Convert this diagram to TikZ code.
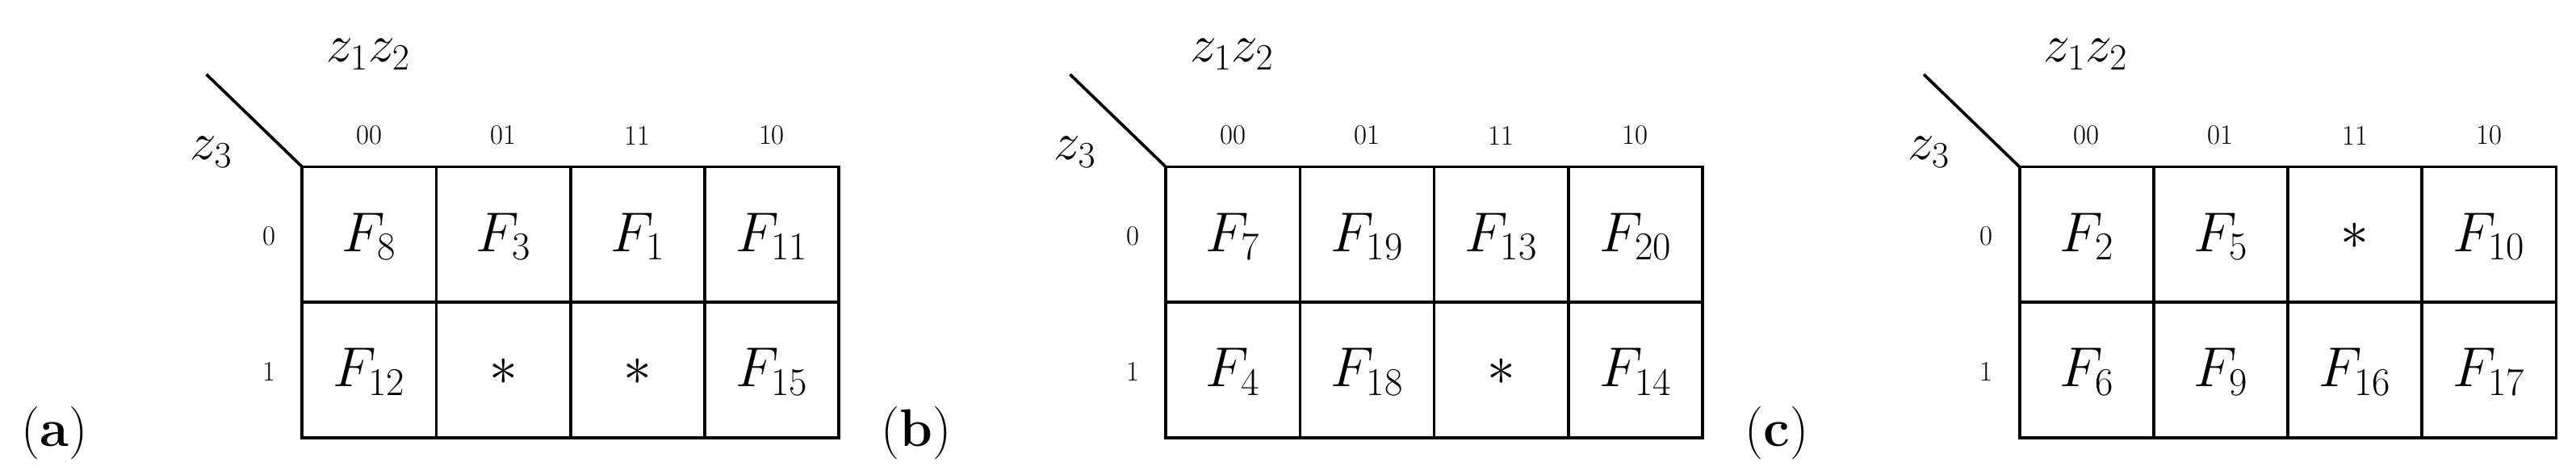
\documentclass[tikz,border=0pt]{standalone}
\usepackage{fix-cm}
\begin{document}
\begin{tikzpicture}[x=1pt,y=-1pt,line width=1.8pt,
  cellf/.style={font=\fontsize{34}{40}\selectfont},
  lab/.style={font=\fontsize{17}{20}\selectfont},
  big/.style={font=\fontsize{32}{36}\selectfont},
  part/.style={font=\fontsize{32}{36}\selectfont}]
\useasboundingbox (0,0) rectangle (1560,287);
\foreach \X/\P/\a/\b/\c/\d/\e/\f/\g/\h in {
  183/a/F_8/F_3/F_1/F_{11}/F_{12}/*/*/F_{15},
  706/b/F_7/F_{19}/F_{13}/F_{20}/F_4/F_{18}/*/F_{14},
  1223/c/F_2/F_5/*/F_{10}/F_6/F_9/F_{16}/F_{17}}{
  \begin{scope}[xshift=\X]
  \draw (0,101) rectangle (325,265);
  \draw (0,183) -- (325,183);
  \foreach \i in {1,2,3} \draw (81.25*\i,101) -- (81.25*\i,265);
  \coordinate (corner\P) at (0,101);
  \coordinate (diag\P) at (-58,45);
  \draw (diag\P) -- (corner\P);
  \node[big] (zz\P) at (40,33) {$z_1z_2$};
  \node[big] (z3\P) at (-55,92) {$z_3$};
  \foreach \t [count=\i from 0] in {00,01,11,10}
    \node[lab] (c\P\i) at (81.25*\i+40.6,82) {\t};
  \node[lab] (r0\P) at (-20,143) {0};
  \node[lab] (r1\P) at (-20,225) {1};
  \node[cellf] (a1\P) at (40.6,143) {$\a$};
  \node[cellf] (a2\P) at (121.9,143) {$\b$};
  \node[cellf] (a3\P) at (203.1,143) {$\c$};
  \node[cellf] (a4\P) at (284.4,143) {$\d$};
  \node[cellf] (b1\P) at (40.6,225) {$\e$};
  \node[cellf] (b2\P) at (121.9,225) {$\f$};
  \node[cellf] (b3\P) at (203.1,225) {$\g$};
  \node[cellf] (b4\P) at (284.4,225) {$\h$};
  \end{scope}}
\node[part] (pa) at (33,262) {(\textbf{a})};
\node[part] (pb) at (555,262) {(\textbf{b})};
\node[part] (pc) at (1076,262) {(\textbf{c})};
\end{tikzpicture}
\end{document}
